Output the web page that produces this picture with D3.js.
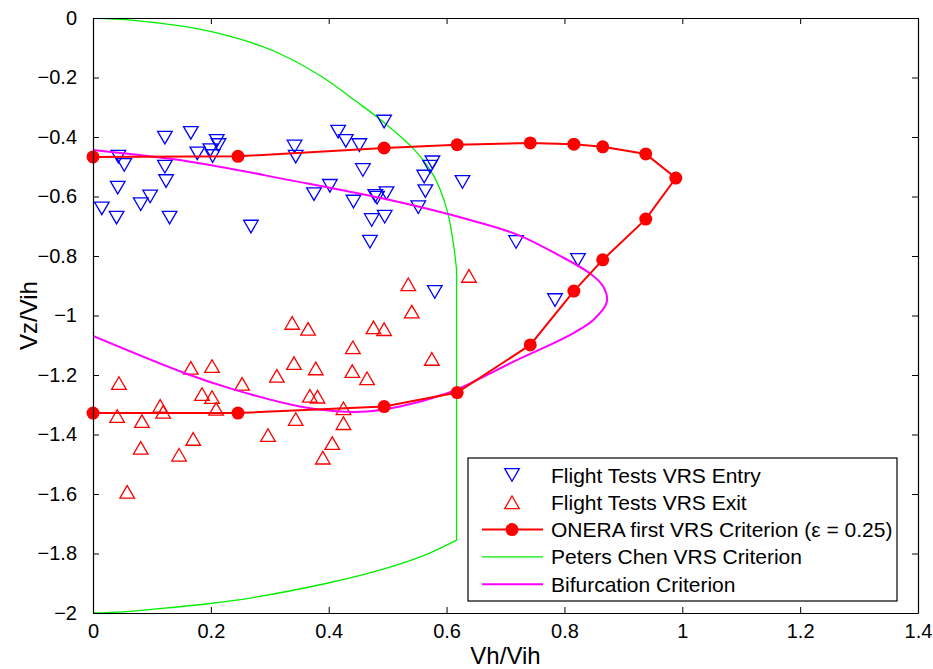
<!DOCTYPE html>
<html>
<head>
<meta charset="utf-8">
<script src="https://cdn.jsdelivr.net/npm/d3@7"></script>
<style>
  html, body { margin: 0; padding: 0; background: #fff; }
  svg { display: block; font-family: "Liberation Sans", Arial, Helvetica, sans-serif; }
</style>
</head>
<body>
<svg id="chart" width="933" height="669"></svg>
<script>
// ---------------- DATA ----------------
const xTicks = [0, 0.2, 0.4, 0.6, 0.8, 1, 1.2, 1.4];
const yTicks = [0, -0.2, -0.4, -0.6, -0.8, -1, -1.2, -1.4, -1.6, -1.8, -2];
const xLabel = "Vh/Vih";
const yLabel = "Vz/Vih";
const legendLabels = [
  "Flight Tests VRS Entry",
  "Flight Tests VRS Exit",
  "ONERA first VRS Criterion (\u03b5 = 0.25)",
  "Peters Chen VRS Criterion",
  "Bifurcation Criterion"
];

// Flight tests, VRS entry (Vh/Vih, Vz/Vih)
const entryX = [0.015, 0.040, 0.042, 0.043, 0.053, 0.081, 0.097, 0.122, 0.122, 0.124, 0.130,
  0.166, 0.177, 0.199, 0.203, 0.210, 0.213, 0.268, 0.342, 0.344, 0.375, 0.402, 0.416, 0.429,
  0.442, 0.452, 0.458, 0.470, 0.473, 0.479, 0.482, 0.494, 0.495, 0.498, 0.552, 0.564, 0.562,
  0.572, 0.576, 0.580, 0.627, 0.718, 0.784, 0.823];
const entryY = [-0.640, -0.671, -0.570, -0.466, -0.494, -0.626, -0.600, -0.402, -0.500, -0.548, -0.671,
  -0.386, -0.455, -0.444, -0.464, -0.413, -0.427, -0.701, -0.432, -0.466, -0.592, -0.564, -0.382, -0.413,
  -0.617, -0.427, -0.511, -0.752, -0.679, -0.598, -0.604, -0.348, -0.668, -0.589, -0.636, -0.582, -0.533,
  -0.500, -0.485, -0.921, -0.551, -0.753, -0.948, -0.813];

// Flight tests, VRS exit
const exitX = [0.041, 0.044, 0.058, 0.081, 0.083, 0.114, 0.119, 0.146, 0.166, 0.170, 0.185,
  0.202, 0.202, 0.209, 0.253, 0.297, 0.312, 0.338, 0.341, 0.344, 0.365, 0.368, 0.378, 0.381,
  0.390, 0.406, 0.425, 0.425, 0.440, 0.441, 0.465, 0.476, 0.494, 0.535, 0.541, 0.575, 0.638];
const exitY = [-1.338, -1.227, -1.593, -1.445, -1.355, -1.304, -1.324, -1.468, -1.176, -1.415, -1.264,
  -1.170, -1.274, -1.314, -1.230, -1.402, -1.203, -1.025, -1.160, -1.348, -1.045, -1.270, -1.178, -1.273,
  -1.478, -1.429, -1.312, -1.362, -1.187, -1.107, -1.211, -1.040, -1.046, -0.895, -0.987, -1.146, -0.867];

// ONERA first VRS criterion (eps = 0.25)
const oneraX = [0, 0.246, 0.494, 0.618, 0.742, 0.816, 0.865, 0.938, 0.989, 0.938, 0.865, 0.816, 0.742, 0.618, 0.494, 0.246, 0];
const oneraY = [-0.467, -0.465, -0.437, -0.426, -0.420, -0.424, -0.433, -0.457, -0.538, -0.676, -0.813, -0.918, -1.099, -1.259, -1.306, -1.328, -1.328];

// Peters Chen VRS criterion: upper arc, vertical segment, lower arc
const petersUpperX = [0, 0.060, 0.108, 0.160, 0.210, 0.278, 0.334, 0.391, 0.447, 0.493, 0.544, 0.578, 0.600, 0.611, 0.617];
const petersUpperY = [0, -0.006, -0.016, -0.030, -0.050, -0.089, -0.136, -0.201, -0.281, -0.350, -0.440, -0.530, -0.640, -0.750, -0.847];
const petersLowerX = [0.617, 0.560, 0.476, 0.397, 0.278, 0.199, 0.108, 0.050, 0];
const petersLowerY = [-1.755, -1.808, -1.862, -1.900, -1.946, -1.968, -1.986, -1.996, -2];

// Bifurcation criterion
const bifX = [0, 0.165, 0.334, 0.504, 0.640, 0.720, 0.790, 0.843, 0.866, 0.872, 0.849, 0.804, 0.719, 0.634,
  0.600, 0.521, 0.464, 0.407, 0.351, 0.241, 0.156, 0];
const bifY = [-0.444, -0.483, -0.545, -0.612, -0.679, -0.728, -0.797, -0.858, -0.903, -0.954, -1.015, -1.071, -1.150, -1.234,
  -1.262, -1.306, -1.323, -1.321, -1.306, -1.250, -1.194, -1.069];

// ---------------- DRAWING ----------------
const svg = d3.select("#chart");
const m = { left: 93, right: 918, top: 18, bottom: 613 };

const x = d3.scaleLinear().domain([0, 1.4]).range([m.left, m.right]);
const y = d3.scaleLinear().domain([-2, 0]).range([m.bottom, m.top]);

const zip = (xs, ys) => xs.map((v, i) => [v, ys[i]]);

const fmt = d => {
  const s = d3.format("")(+d.toFixed(2));
  return s.replace("-", "\u2212");
};

svg.append("defs").append("clipPath").attr("id", "plotclip")
  .append("rect").attr("x", m.left).attr("y", m.top)
  .attr("width", m.right - m.left).attr("height", m.bottom - m.top);

svg.append("rect").attr("x", m.left).attr("y", m.top)
  .attr("width", m.right - m.left).attr("height", m.bottom - m.top).attr("fill", "#fff");

const plot = svg.append("g").attr("clip-path", "url(#plotclip)");

const line = d3.line().x(d => x(d[0])).y(d => y(d[1]));
const smooth = d3.line().x(d => x(d[0])).y(d => y(d[1])).curve(d3.curveCatmullRom.alpha(0.5));

// Peters Chen
const pcUpper = zip(petersUpperX, petersUpperY);
const pcLower = zip(petersLowerX, petersLowerY);
const pcPath = smooth(pcUpper) + "L" + smooth(pcLower).slice(1);
plot.append("path").attr("d", pcPath)
  .attr("fill", "none").attr("stroke", "#00ee00").attr("stroke-width", 1.3);

// Triangle symbols
const triDown = { draw(ctx) { const w = 7.3, h = 6.3; ctx.moveTo(-w, -h); ctx.lineTo(w, -h); ctx.lineTo(0, h); ctx.closePath(); } };
const triUp = { draw(ctx) { const w = 7.3, h = 6.3; ctx.moveTo(-w, h); ctx.lineTo(w, h); ctx.lineTo(0, -h); ctx.closePath(); } };

plot.append("g").selectAll("path").data(zip(entryX, entryY)).join("path")
  .attr("transform", d => `translate(${x(d[0])},${y(d[1])})`)
  .attr("d", d3.symbol().type(triDown))
  .attr("fill", "none").attr("stroke", "#0000ff").attr("stroke-width", 1.3);

plot.append("g").selectAll("path").data(zip(exitX, exitY)).join("path")
  .attr("transform", d => `translate(${x(d[0])},${y(d[1])})`)
  .attr("d", d3.symbol().type(triUp))
  .attr("fill", "none").attr("stroke", "#ff0000").attr("stroke-width", 1.3);

// Bifurcation
plot.append("path").datum(zip(bifX, bifY))
  .attr("d", smooth)
  .attr("fill", "none").attr("stroke", "#ff00ff").attr("stroke-width", 2);

// ONERA
const onera = zip(oneraX, oneraY);
plot.append("path").datum(onera)
  .attr("d", line).attr("fill", "none").attr("stroke", "#ff0000").attr("stroke-width", 2);
svg.append("g").selectAll("circle").data(onera).join("circle")
  .attr("cx", d => x(d[0])).attr("cy", d => y(d[1])).attr("r", 6.5).attr("fill", "#ff0000");

// Axes (box style, ticks inward)
const tickLen = 6;
const axB = d3.axisBottom(x).tickValues(xTicks).tickFormat(fmt).tickSizeInner(-tickLen).tickSizeOuter(0).tickPadding(11);
const axT = d3.axisTop(x).tickValues(xTicks).tickFormat("").tickSizeInner(-tickLen).tickSizeOuter(0);
const axL = d3.axisLeft(y).tickValues(yTicks).tickFormat(fmt).tickSizeInner(-tickLen).tickSizeOuter(0).tickPadding(16);
const axR = d3.axisRight(y).tickValues(yTicks).tickFormat("").tickSizeInner(-tickLen).tickSizeOuter(0);

function styleAxis(g) {
  g.selectAll("path.domain").attr("stroke", "#000").attr("stroke-width", 1.2);
  g.selectAll(".tick line").attr("stroke", "#000").attr("stroke-width", 1);
  g.selectAll(".tick text").attr("fill", "#000").attr("font-size", 20).attr("font-family", "'Liberation Sans', Arial, sans-serif");
}
svg.append("g").attr("transform", `translate(0,${m.bottom})`).call(axB).call(styleAxis);
svg.append("g").attr("transform", `translate(0,${m.top})`).call(axT).call(styleAxis);
svg.append("g").attr("transform", `translate(${m.left},0)`).call(axL).call(styleAxis);
svg.append("g").attr("transform", `translate(${m.right},0)`).call(axR).call(styleAxis);

// Axis labels
svg.append("text").attr("x", (m.left + m.right) / 2).attr("y", 664)
  .attr("text-anchor", "middle").attr("font-size", 24).attr("fill", "#000").text(xLabel);
svg.append("text").attr("transform", `translate(37,${(m.top + m.bottom) / 2}) rotate(-90)`)
  .attr("text-anchor", "middle").attr("font-size", 24).attr("fill", "#000").text(yLabel);

// Legend
const lg = svg.append("g");
const lx0 = 468, ly0 = 458, lw = 429, lh = 143;
lg.append("rect").attr("x", lx0).attr("y", ly0).attr("width", lw).attr("height", lh)
  .attr("fill", "#fff").attr("stroke", "#000").attr("stroke-width", 1.2);
const rowY = i => 475 + i * 27.3;
const sx0 = 482, sx1 = 543, sxm = 512, tx = 551;

lg.append("path").attr("transform", `translate(${sxm},${rowY(0)})`)
  .attr("d", d3.symbol().type(triDown)).attr("fill", "none").attr("stroke", "#0000ff").attr("stroke-width", 1.3);
lg.append("path").attr("transform", `translate(${sxm},${rowY(1)})`)
  .attr("d", d3.symbol().type(triUp)).attr("fill", "none").attr("stroke", "#ff0000").attr("stroke-width", 1.3);
lg.append("line").attr("x1", sx0).attr("x2", sx1).attr("y1", rowY(2)).attr("y2", rowY(2))
  .attr("stroke", "#ff0000").attr("stroke-width", 2);
lg.append("circle").attr("cx", sxm).attr("cy", rowY(2)).attr("r", 6.5).attr("fill", "#ff0000");
lg.append("line").attr("x1", sx0).attr("x2", sx1).attr("y1", rowY(3)).attr("y2", rowY(3))
  .attr("stroke", "#00ee00").attr("stroke-width", 1.3);
lg.append("line").attr("x1", sx0).attr("x2", sx1).attr("y1", rowY(4)).attr("y2", rowY(4))
  .attr("stroke", "#ff00ff").attr("stroke-width", 2);

lg.selectAll("text.lab").data(legendLabels).join("text").attr("class", "lab")
  .attr("x", tx).attr("y", (d, i) => rowY(i)).attr("dy", "0.36em")
  .attr("font-size", 21).attr("fill", "#000").text(d => d);
</script>
</body>
</html>
